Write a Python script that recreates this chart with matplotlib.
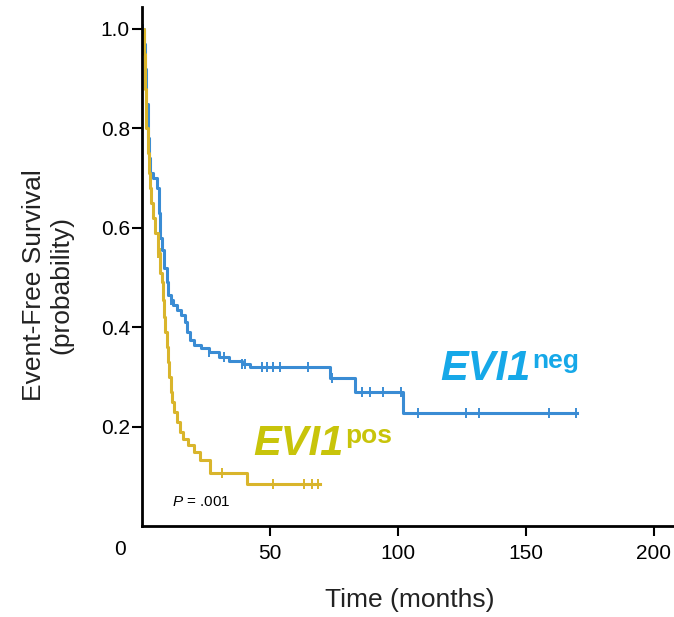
import numpy as np
import matplotlib
matplotlib.use("Agg")
import matplotlib.pyplot as plt

plt.rcParams['font.family'] = ['Liberation Sans', 'DejaVu Sans']
plt.rcParams['mathtext.fontset'] = 'custom'
plt.rcParams['mathtext.it'] = 'Liberation Sans:italic'
plt.rcParams['mathtext.rm'] = 'Liberation Sans'

# EVI1 negative: step times (months) and survival
neg_t = [0, 0.5, 1, 1.5, 2, 2.5, 3, 4, 5.5, 6.5, 7, 7.5, 8.5, 9.5, 10, 11, 12,
         13.5, 15, 16.5, 17.5, 18.5, 20, 23, 26, 30, 34, 39, 42, 73.5, 83, 102, 170]
neg_s = [1.0, 0.97, 0.92, 0.85, 0.78, 0.74, 0.71, 0.70, 0.68, 0.63, 0.58, 0.555,
         0.52, 0.49, 0.465, 0.455, 0.445, 0.435, 0.425, 0.41, 0.39, 0.375, 0.365,
         0.358, 0.35, 0.34, 0.332, 0.325, 0.32, 0.298, 0.27, 0.227, 0.227]
neg_cens = [0.3, 11, 26, 32, 39, 40, 46.9, 48.8, 51.2, 53.9, 64.9, 74.3, 86, 89.2,
            94.3, 101, 108, 126.5, 131.6, 159, 169.6]

# EVI1 positive
pos_t = [0, 0.5, 1, 1.5, 2, 2.5, 3, 3.5, 4, 5, 6, 7, 7.5, 8, 8.5, 9, 9.5, 10,
         10.5, 11, 11.5, 12.5, 13.5, 14.5, 16, 18, 20, 22.5, 26.5, 41, 69.6]
pos_s = [1.0, 0.95, 0.88, 0.80, 0.75, 0.71, 0.68, 0.65, 0.62, 0.59, 0.55, 0.51,
         0.49, 0.455, 0.42, 0.39, 0.36, 0.33, 0.30, 0.27, 0.25, 0.23, 0.21, 0.19,
         0.175, 0.163, 0.148, 0.133, 0.107, 0.085, 0.085]
pos_cens = [6.2, 6.7, 31.2, 51.2, 63.3, 66.5, 68.8]

neg_line = '#3a8cd4'
pos_line = '#d9b52c'


def surv_at(t, s, x):
    i = np.searchsorted(t, x, side='right') - 1
    return np.array(s)[i]


fig = plt.figure(figsize=(6.74, 6.17), dpi=100)
ax = fig.add_axes([0.2114, 0.1475, 0.7886, 0.841])

ax.step(neg_t, neg_s, where='post', color=neg_line, lw=2.2)
ax.step(pos_t, pos_s, where='post', color=pos_line, lw=2.2)
ax.plot(neg_cens, surv_at(neg_t, neg_s, neg_cens), ls='none', marker='|',
        ms=7, mew=1.4, color=neg_line)
ax.plot(pos_cens, surv_at(pos_t, pos_s, pos_cens), ls='none', marker='|',
        ms=7, mew=1.4, color=pos_line)

ax.set_xlim(0, 208)
ax.set_ylim(0, 1.044)
ax.set_xticks([50, 100, 150, 200])
ax.set_yticks([0.2, 0.4, 0.6, 0.8, 1.0])
ax.set_yticklabels(['0.2', '0.4', '0.6', '0.8', '1.0'])
for sp in ['top', 'right']:
    ax.spines[sp].set_visible(False)
for sp in ['left', 'bottom']:
    ax.spines[sp].set_linewidth(2.0)
ax.tick_params(axis='both', labelsize=15, width=1.5, length=7, color='black')
ax.tick_params(axis='x', pad=6)
ax.tick_params(axis='y', pad=2)

fig.text(0.178, 0.1086, '0', fontsize=15, ha='center', va='center')

t1 = ax.text(116.7, 0.294, 'EVI1', fontsize=30, fontweight='bold',
             fontstyle='italic', color='#16a8e8', ha='left', va='baseline')
ax.annotate('neg', xy=(1, 1), xycoords=t1, xytext=(1, 0), textcoords='offset points',
            fontsize=19, fontweight='bold', color='#16a8e8', ha='left', va='top')
t2 = ax.text(43.3, 0.143, 'EVI1', fontsize=30, fontweight='bold',
             fontstyle='italic', color='#c8c40a', ha='left', va='baseline')
ax.annotate('pos', xy=(1, 1), xycoords=t2, xytext=(1, 0), textcoords='offset points',
            fontsize=19, fontweight='bold', color='#c8c40a', ha='left', va='top')

ax.text(11.6, 0.048, r'$\mathit{P}$ = .001', fontsize=11, ha='left', va='center')

fig.text(0.071, 0.538, 'Event-Free Survival\n(probability)', rotation=90,
         fontsize=19, ha='center', va='center', multialignment='center', color='#222222')
fig.text(0.608, 0.0276, 'Time (months)', fontsize=19, ha='center', va='center',
         color='#222222')

fig.savefig('out.png', dpi=100)
